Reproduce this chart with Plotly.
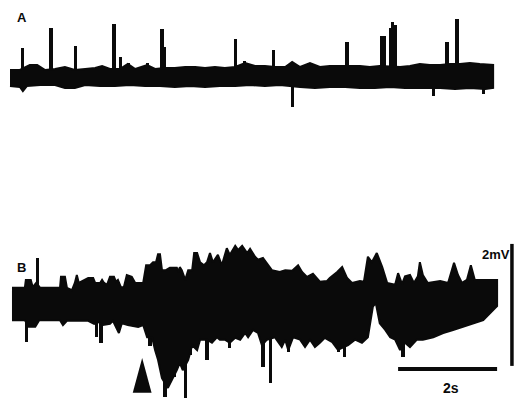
import plotly.graph_objects as go

# ---------------- data (time in s, amplitude in mV) ----------------
# Trace A: background band envelope
a_up_t = [0.0, 0.20, 0.40, 0.55, 0.71, 0.91, 1.11, 1.31, 1.52, 1.72, 1.86, 2.02, 2.22, 2.38, 2.53,
          2.77, 2.93, 3.13, 3.33, 3.54, 3.74, 3.94, 4.14, 4.34, 4.55, 4.75, 4.95, 5.15, 5.35, 5.56,
          5.70, 5.86, 6.06, 6.26, 6.46, 6.67, 6.87, 7.07, 7.27, 7.47, 7.88, 8.08, 8.28, 8.48, 8.69,
          8.89, 9.09, 9.29, 9.49, 9.76]
a_up_v = [0.115, 0.115, 0.197, 0.197, 0.115, 0.131, 0.164, 0.115, 0.131, 0.148, 0.180, 0.131, 0.131, 0.213, 0.131,
          0.197, 0.131, 0.148, 0.148, 0.164, 0.164, 0.148, 0.164, 0.148, 0.164, 0.230, 0.180, 0.180, 0.164, 0.164,
          0.246, 0.164, 0.230, 0.164, 0.180, 0.180, 0.180, 0.180, 0.164, 0.180, 0.164, 0.180, 0.213, 0.197, 0.197,
          0.213, 0.213, 0.230, 0.213, 0.197]
a_lo_t = [0.0, 0.20, 0.26, 0.34, 0.61, 0.91, 1.11, 1.31, 1.52, 1.82, 2.12, 2.42, 2.73, 3.03, 3.33,
          3.64, 3.94, 4.24, 4.55, 4.85, 5.15, 5.45, 5.86, 6.16, 6.46, 6.77, 7.07, 7.37, 7.68, 7.98,
          8.28, 8.69, 8.99, 9.29, 9.60, 9.76]
a_lo_v = [-0.148, -0.164, -0.230, -0.148, -0.131, -0.131, -0.180, -0.180, -0.131, -0.148, -0.148, -0.131, -0.148, -0.148, -0.164,
          -0.148, -0.164, -0.148, -0.148, -0.131, -0.148, -0.131, -0.164, -0.180, -0.164, -0.164, -0.180, -0.180, -0.164, -0.180,
          -0.180, -0.180, -0.197, -0.180, -0.197, -0.180]
# Trace A: discrete spikes (time, peak amplitude)
a_spk_t = [0.26, 0.83, 1.33, 2.10, 2.24, 2.40, 2.77, 3.07, 3.12, 4.55, 4.73, 5.33,
           5.70, 6.81, 7.50, 7.56, 7.68, 7.73, 7.78, 8.55, 8.83, 9.03, 9.56]
a_spk_v = [0.47, 0.80, 0.51, 0.87, 0.33, 0.23, 0.23, 0.79, 0.49, 0.62, 0.26, 0.44,
           -0.49, 0.57, 0.67, 0.67, 0.80, 0.90, 0.85, -0.31, 0.57, 0.95, -0.28]

# Trace B: envelope
b_up_t = [0.04, 0.30, 0.32, 0.42, 0.46, 0.53, 0.61, 1.01, 1.03, 1.11, 1.15, 1.25, 1.31, 1.35, 1.39,
          1.58, 1.68, 1.72, 1.82, 1.86, 1.90, 1.96, 2.02, 2.10, 2.14, 2.18, 2.24, 2.30, 2.36, 2.46,
          2.53, 2.69, 2.75, 2.83, 2.89, 2.95, 2.99, 3.03, 3.07, 3.15, 3.23, 3.37, 3.41, 3.43, 3.47,
          3.54, 3.60, 3.68, 3.72, 3.78, 3.84, 3.92, 3.98, 4.04, 4.10, 4.20, 4.28, 4.38, 4.44, 4.55,
          4.61, 4.69, 4.79, 4.85, 4.95, 5.01, 5.11, 5.21, 5.29, 5.45, 5.56, 5.70, 5.82, 5.90, 6.00,
          6.12, 6.26, 6.40, 6.46, 6.61, 6.71, 6.81, 6.91, 7.07, 7.15, 7.23, 7.31, 7.41, 7.52, 7.62,
          7.78, 7.84, 7.92, 7.98, 8.08, 8.16, 8.24, 8.28, 8.34, 8.44, 8.69, 8.85, 8.97, 9.05, 9.13,
          9.23, 9.31, 9.39, 9.60, 9.84]
b_up_v = [0.15, 0.15, 0.28, 0.28, 0.16, 0.23, 0.15, 0.15, 0.33, 0.33, 0.15, 0.11, 0.23, 0.36, 0.23,
          0.31, 0.31, 0.23, 0.23, 0.28, 0.23, 0.20, 0.33, 0.33, 0.25, 0.28, 0.16, 0.16, 0.36, 0.33,
          0.23, 0.23, 0.52, 0.52, 0.57, 0.57, 0.70, 0.70, 0.44, 0.44, 0.48, 0.48, 0.41, 0.49, 0.44,
          0.28, 0.44, 0.44, 0.72, 0.72, 0.57, 0.52, 0.57, 0.72, 0.57, 0.69, 0.52, 0.80, 0.69, 0.84,
          0.77, 0.84, 0.72, 0.79, 0.66, 0.61, 0.64, 0.52, 0.44, 0.41, 0.44, 0.43, 0.52, 0.41, 0.33,
          0.38, 0.25, 0.26, 0.31, 0.41, 0.49, 0.31, 0.23, 0.26, 0.25, 0.66, 0.57, 0.72, 0.49, 0.23,
          0.20, 0.39, 0.21, 0.34, 0.36, 0.23, 0.34, 0.57, 0.36, 0.23, 0.26, 0.23, 0.56, 0.36, 0.23,
          0.28, 0.52, 0.28, 0.28, 0.28]
b_lo_t = [0.04, 0.30, 0.38, 0.51, 0.59, 1.01, 1.07, 1.15, 1.58, 1.70, 1.78, 1.88, 2.02, 2.08, 2.20,
          2.26, 2.38, 2.59, 2.69, 2.77, 2.87, 2.93, 2.99, 3.07, 3.15, 3.19, 3.27, 3.37, 3.43, 3.49,
          3.60, 3.68, 3.78, 3.84, 3.98, 4.08, 4.18, 4.24, 4.34, 4.44, 4.55, 4.65, 4.75, 4.81, 4.91,
          5.01, 5.09, 5.19, 5.35, 5.49, 5.56, 5.62, 5.72, 5.86, 5.96, 6.06, 6.16, 6.26, 6.36, 6.51,
          6.63, 6.69, 6.83, 6.97, 7.11, 7.23, 7.33, 7.39, 7.47, 7.58, 7.68, 7.78, 7.88, 7.98, 8.08,
          8.22, 8.34, 8.55, 8.75, 8.95, 9.15, 9.35, 9.56, 9.80, 9.84]
b_lo_v = [-0.38, -0.38, -0.49, -0.49, -0.38, -0.38, -0.46, -0.39, -0.39, -0.44, -0.41, -0.46, -0.44, -0.39, -0.59,
          -0.43, -0.46, -0.49, -0.46, -0.66, -0.66, -0.87, -1.03, -1.33, -1.44, -1.49, -1.36, -1.20, -1.08, -1.20,
          -1.03, -0.79, -0.87, -0.70, -0.70, -0.75, -0.66, -0.70, -0.70, -0.75, -0.67, -0.70, -0.59, -0.66, -0.54,
          -0.59, -0.79, -0.70, -0.66, -0.82, -0.70, -0.87, -0.66, -0.70, -0.82, -0.70, -0.82, -0.75, -0.67, -0.74,
          -0.87, -0.84, -0.79, -0.70, -0.75, -0.66, -0.16, -0.10, -0.43, -0.54, -0.66, -0.70, -0.87, -0.75, -0.82,
          -0.70, -0.70, -0.66, -0.59, -0.54, -0.49, -0.43, -0.38, -0.18, -0.15]
# Trace B: discrete spikes
b_spk_t = [0.55, 0.34, 1.74, 1.84, 2.83, 3.13, 3.33, 3.54, 3.64, 3.98, 4.44, 5.11, 5.27,
           5.62, 6.63, 6.75, 7.94]
b_spk_v = [0.64, -0.74, -0.66, -0.75, -0.80, -1.64, -1.31, -1.66, -0.95, -1.03, -0.84, -1.15, -1.41,
           -0.90, -0.90, -0.98, -0.98]

# annotations / scale bars
stim_t = 2.67          # stimulus onset (arrowhead)
bar_t0, bar_dt = 7.84, 2.0     # 2 s time bar
bar_v_t, bar_v0, bar_dv = 10.14, -1.13, 2.0   # 2 mV amplitude bar
time_bar_level = -1.18
labels = ["A", "B", "2mV", "2s"]

INK = "#0a0a0a"

fig = go.Figure()


def band(up_t, up_v, lo_t, lo_v, yaxis):
    fig.add_trace(go.Scatter(
        x=list(up_t) + list(lo_t)[::-1], y=list(up_v) + list(lo_v)[::-1],
        fill="toself", fillcolor=INK, mode="lines",
        line=dict(color=INK, width=2), yaxis=yaxis, hoverinfo="skip", showlegend=False))


def spikes(t, v, yaxis):
    fig.add_trace(go.Bar(x=t, y=v, base=0, width=0.065, yaxis=yaxis,
                         marker=dict(color=INK, line=dict(width=0)),
                         hoverinfo="skip", showlegend=False))


band(a_up_t, a_up_v, a_lo_t, a_lo_v, "y")
spikes(a_spk_t, a_spk_v, "y")
band(b_up_t, b_up_v, b_lo_t, b_lo_v, "y2")
spikes(b_spk_t, b_spk_v, "y2")

# arrowhead (stimulus)
fig.add_shape(type="path", xref="x", yref="y2",
              path=f"M {stim_t-0.19} -1.57 L {stim_t} -1.00 L {stim_t+0.19} -1.57 Z",
              fillcolor=INK, line=dict(color=INK, width=0))
# scale bars
fig.add_shape(type="line", xref="x", yref="y2", x0=bar_t0, x1=bar_t0 + bar_dt,
              y0=time_bar_level, y1=time_bar_level, line=dict(color=INK, width=4))
fig.add_shape(type="line", xref="x", yref="y2", x0=bar_v_t, x1=bar_v_t,
              y0=bar_v0, y1=bar_v0 + bar_dv, line=dict(color=INK, width=3.5))

font = dict(family="Liberation Sans, Arial, sans-serif", color=INK)
fig.add_annotation(x=0.24, y=0.97, xref="x", yref="y", text=f"<b>{labels[0]}</b>",
                   showarrow=False, font=dict(size=13, **font))
fig.add_annotation(x=0.24, y=0.48, xref="x", yref="y2", text=f"<b>{labels[1]}</b>",
                   showarrow=False, font=dict(size=13, **font))
fig.add_annotation(x=9.82, y=0.69, xref="x", yref="y2", text=f"<b>{labels[2]}</b>",
                   showarrow=False, font=dict(size=13, **font))
fig.add_annotation(x=8.91, y=-1.49, xref="x", yref="y2", text=f"<b>{labels[3]}</b>",
                   showarrow=False, font=dict(size=14, **font))

fig.update_layout(
    width=531, height=400, margin=dict(l=0, r=0, t=0, b=0),
    paper_bgcolor="white", plot_bgcolor="white", barmode="overlay", bargap=0,
    xaxis=dict(range=[-0.202, 10.525], visible=False),
    yaxis=dict(domain=[0.5, 1], range=[-2.016, 1.262], visible=False),
    yaxis2=dict(domain=[0, 0.5], range=[-1.689, 1.590], visible=False),
)

fig.write_html("out.html", config={"displayModeBar": False},
               post_script="document.body.style.margin='0';")
